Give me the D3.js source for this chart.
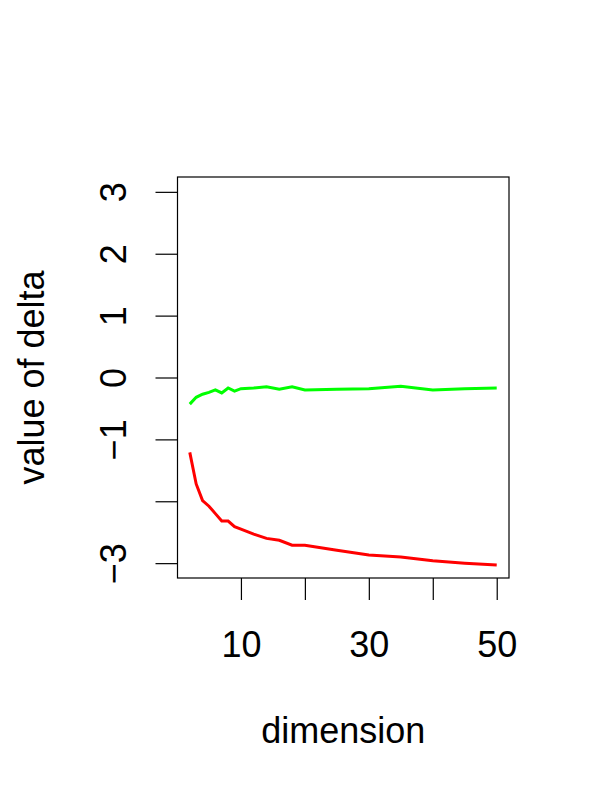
<!DOCTYPE html>
<html><head><meta charset="utf-8">
<script src="https://cdn.jsdelivr.net/npm/d3@7"></script>
<style>body{margin:0;background:#fff}svg{display:block}text{font-family:"Liberation Sans",Arial,sans-serif;fill:#000}</style>
</head><body>
<script>
const dims = [2,3,4,5,6,7,8,9,10,12,14,16,18,20,25,30,35,40,45,50];
const greenDelta = [-0.43,-0.32,-0.27,-0.24,-0.20,-0.25,-0.17,-0.22,-0.18,-0.17,-0.15,-0.19,-0.15,-0.20,-0.19,-0.18,-0.14,-0.20,-0.18,-0.17];
const redDelta = [-1.21,-1.72,-1.99,-2.08,-2.20,-2.32,-2.32,-2.41,-2.45,-2.53,-2.60,-2.63,-2.71,-2.71,-2.79,-2.87,-2.90,-2.96,-3.00,-3.03];
const xTicks = [10,20,30,40,50];
const xTickLabels = ["10","","30","","50"];
const yTicks = [-3,-2,-1,0,1,2,3];
const yTickLabels = ["\u22123","","\u22121","0","1","2","3"];

const W=600,H=800;
const svg=d3.select("body").append("svg").attr("width",W).attr("height",H);
const L=177.5,R=509,T=177,B=578;
const x=d3.scaleLinear().domain([0.08,51.92]).range([L,R]);
const y=d3.scaleLinear().domain([-3.24,3.24]).range([B,T]);

// x axis
const gx=svg.append("g").attr("transform",`translate(0,${B})`)
  .call(d3.axisBottom(x).tickValues(xTicks).tickSize(22).tickFormat((d,i)=>xTickLabels[i]));
gx.select(".domain").remove();
gx.selectAll("line").attr("stroke","#000").attr("stroke-width",1.2);
gx.selectAll("text").attr("font-size",36).attr("font-family","Liberation Sans, Arial, sans-serif")
  .attr("y",79).attr("dy",0);

// y axis
const gy=svg.append("g").attr("transform",`translate(${L},0)`)
  .call(d3.axisLeft(y).tickValues(yTicks).tickSize(22).tickFormat(""));
gy.select(".domain").remove();
gy.selectAll("line").attr("stroke","#000").attr("stroke-width",1.2);
gy.selectAll(".tick").append("text")
  .attr("transform","translate(-52,0) rotate(-90)")
  .attr("text-anchor","middle").attr("font-size",36)
  .text((d,i)=>yTickLabels[i]);

// box
svg.append("rect").attr("x",L).attr("y",T).attr("width",R-L).attr("height",B-T)
  .attr("fill","none").attr("stroke","#000").attr("stroke-width",1.2);

const line=d3.line().x((d,i)=>x(dims[i])).y(d=>y(d));
svg.append("path").datum(greenDelta).attr("d",line).attr("fill","none").attr("stroke","#00ff00").attr("stroke-width",3);
svg.append("path").datum(redDelta).attr("d",line).attr("fill","none").attr("stroke","#ff0000").attr("stroke-width",3);

svg.append("text").attr("x",(L+R)/2).attr("y",743).attr("text-anchor","middle").attr("font-size",36).text("dimension");
svg.append("text").attr("transform",`translate(44,${(T+B)/2}) rotate(-90)`).attr("text-anchor","middle").attr("font-size",36).text("value of delta");
</script>
</body></html>
